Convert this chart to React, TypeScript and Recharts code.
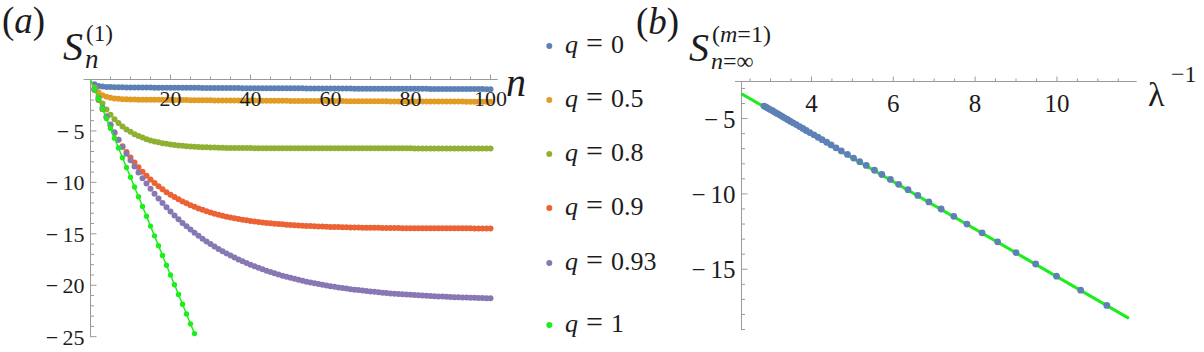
import React from 'react';
import { ScatterChart, Scatter, XAxis, YAxis, ReferenceLine } from 'recharts';

const FONT = "'Liberation Serif', 'Times New Roman', 'DejaVu Serif', 'Noto Serif', serif";
const AXIS = '#9a9a9a';
const INK = '#1c1c1c';

// ---- panel (a): S_n^(1) against n, sampled at n = 1..100 ----
const q0 = [
  -0.45, -0.62, -0.69, -0.72, -0.74, -0.75, -0.76, -0.76, -0.77, -0.77,
  -0.77, -0.78, -0.78, -0.78, -0.78, -0.79, -0.79, -0.79, -0.79, -0.8,
  -0.8, -0.8, -0.8, -0.81, -0.81, -0.81, -0.81, -0.82, -0.82, -0.82,
  -0.82, -0.82, -0.83, -0.83, -0.83, -0.83, -0.83, -0.84, -0.84, -0.84,
  -0.84, -0.84, -0.85, -0.85, -0.85, -0.85, -0.85, -0.86, -0.86, -0.86,
  -0.86, -0.86, -0.86, -0.87, -0.87, -0.87, -0.87, -0.87, -0.87, -0.88,
  -0.88, -0.88, -0.88, -0.88, -0.88, -0.89, -0.89, -0.89, -0.89, -0.89,
  -0.89, -0.9, -0.9, -0.9, -0.9, -0.9, -0.9, -0.91, -0.91, -0.91,
  -0.91, -0.91, -0.91, -0.91, -0.92, -0.92, -0.92, -0.92, -0.92, -0.92,
  -0.92, -0.93, -0.93, -0.93, -0.93, -0.93, -0.93, -0.93, -0.94, -0.94,
];
const q05 = [
  -0.8, -1.25, -1.52, -1.68, -1.78, -1.84, -1.88, -1.91, -1.93, -1.94,
  -1.95, -1.96, -1.96, -1.97, -1.97, -1.98, -1.98, -1.98, -1.99, -1.99,
  -1.99, -2.0, -2.0, -2.0, -2.01, -2.01, -2.01, -2.02, -2.02, -2.02,
  -2.03, -2.03, -2.03, -2.03, -2.04, -2.04, -2.04, -2.05, -2.05, -2.05,
  -2.05, -2.06, -2.06, -2.06, -2.06, -2.07, -2.07, -2.07, -2.07, -2.08,
  -2.08, -2.08, -2.08, -2.09, -2.09, -2.09, -2.09, -2.09, -2.1, -2.1,
  -2.1, -2.1, -2.1, -2.11, -2.11, -2.11, -2.11, -2.11, -2.12, -2.12,
  -2.12, -2.12, -2.12, -2.12, -2.13, -2.13, -2.13, -2.13, -2.13, -2.13,
  -2.14, -2.14, -2.14, -2.14, -2.14, -2.14, -2.15, -2.15, -2.15, -2.15,
  -2.15, -2.15, -2.15, -2.16, -2.16, -2.16, -2.16, -2.16, -2.16, -2.16,
];
const q08 = [
  -0.89, -1.66, -2.33, -2.91, -3.42, -3.86, -4.23, -4.57, -4.85, -5.09,
  -5.31, -5.49, -5.65, -5.8, -5.92, -6.02, -6.11, -6.19, -6.25, -6.31,
  -6.36, -6.41, -6.45, -6.49, -6.52, -6.54, -6.56, -6.58, -6.59, -6.61,
  -6.62, -6.63, -6.64, -6.65, -6.65, -6.66, -6.67, -6.67, -6.67, -6.67,
  -6.68, -6.68, -6.68, -6.68, -6.68, -6.68, -6.68, -6.68, -6.68, -6.68,
  -6.68, -6.68, -6.68, -6.68, -6.68, -6.68, -6.68, -6.68, -6.68, -6.68,
  -6.69, -6.69, -6.69, -6.69, -6.69, -6.69, -6.69, -6.69, -6.69, -6.69,
  -6.69, -6.69, -6.69, -6.69, -6.69, -6.69, -6.69, -6.69, -6.69, -6.69,
  -6.7, -6.7, -6.7, -6.7, -6.7, -6.7, -6.7, -6.7, -6.7, -6.7,
  -6.7, -6.7, -6.7, -6.7, -6.7, -6.7, -6.7, -6.7, -6.7, -6.7,
];
const q09 = [
  -1.03, -1.99, -2.89, -3.72, -4.48, -5.2, -5.86, -6.48, -7.05, -7.58,
  -8.08, -8.53, -8.96, -9.35, -9.72, -10.06, -10.38, -10.67, -10.95, -11.2,
  -11.43, -11.65, -11.86, -12.04, -12.22, -12.38, -12.53, -12.67, -12.8, -12.93,
  -13.04, -13.14, -13.24, -13.33, -13.41, -13.49, -13.56, -13.63, -13.69, -13.75,
  -13.8, -13.85, -13.9, -13.94, -13.98, -14.02, -14.05, -14.08, -14.11, -14.14,
  -14.17, -14.19, -14.21, -14.23, -14.25, -14.27, -14.29, -14.3, -14.32, -14.33,
  -14.34, -14.35, -14.36, -14.37, -14.38, -14.39, -14.39, -14.4, -14.41, -14.41,
  -14.42, -14.42, -14.43, -14.43, -14.44, -14.44, -14.44, -14.45, -14.45, -14.45,
  -14.46, -14.46, -14.46, -14.46, -14.46, -14.46, -14.46, -14.46, -14.46, -14.46,
  -14.47, -14.47, -14.47, -14.47, -14.47, -14.48, -14.48, -14.48, -14.48, -14.48,
];
const q093 = [
  -0.95, -1.87, -2.74, -3.57, -4.37, -5.13, -5.86, -6.55, -7.22, -7.85,
  -8.46, -9.03, -9.59, -10.12, -10.62, -11.11, -11.57, -12.01, -12.43, -12.83,
  -13.22, -13.59, -13.94, -14.27, -14.59, -14.9, -15.19, -15.47, -15.74, -16.0,
  -16.24, -16.48, -16.7, -16.91, -17.11, -17.31, -17.5, -17.67, -17.84, -18.01,
  -18.16, -18.31, -18.45, -18.59, -18.72, -18.84, -18.96, -19.07, -19.18, -19.28,
  -19.38, -19.47, -19.56, -19.65, -19.73, -19.81, -19.89, -19.96, -20.03, -20.09,
  -20.15, -20.21, -20.27, -20.32, -20.38, -20.43, -20.47, -20.52, -20.56, -20.61,
  -20.64, -20.68, -20.72, -20.75, -20.79, -20.82, -20.85, -20.88, -20.9, -20.93,
  -20.96, -20.98, -21.0, -21.03, -21.05, -21.07, -21.09, -21.1, -21.12, -21.14,
  -21.16, -21.17, -21.19, -21.2, -21.21, -21.22, -21.24, -21.25, -21.26, -21.27,
];
// q = 1 starts at n = 0 (line only there) and runs to n = 26
const q1 = [
  0, -0.95, -1.9, -2.85, -3.8, -4.75, -5.7, -6.65, -7.6, -8.55,
  -9.5, -10.45, -11.4, -12.35, -13.3, -14.25, -15.2, -16.15, -17.1, -18.05,
  -19.0, -19.95, -20.9, -21.85, -22.8, -23.75, -24.7,
];

const seriesA = [
  { q: '0', color: '#5E81B5', values: q0, first: 1 },
  { q: '0.5', color: '#E19C24', values: q05, first: 1 },
  { q: '0.8', color: '#8FB032', values: q08, first: 1 },
  { q: '0.9', color: '#EB6235', values: q09, first: 1 },
  { q: '0.93', color: '#8778B3', values: q093, first: 1 },
  { q: '1', color: '#1BEE1B', values: q1, first: 0 },
];

const nTicks = [5, 10, 15, 20, 25, 30, 35, 40, 45, 50, 55, 60, 65, 70, 75, 80, 85, 90, 95, 100];
const nMajor = [20, 40, 60, 80, 100];
const sTicksA = [-1, -2, -3, -4, -5, -6, -7, -8, -9, -10, -11, -12, -13, -14, -15, -16, -17, -18, -19, -20, -21, -22, -23, -24, -25];
const sMajorA = [-5, -10, -15, -20, -25];

// ---- panel (b): S_{n=inf} against 1/lambda ----
const lambdaInv = [
  2.84, 2.89, 2.94, 2.99, 3.05, 3.1, 3.16, 3.22, 3.28, 3.34,
  3.41, 3.48, 3.55, 3.63, 3.71, 3.79, 3.87, 3.96, 4.06, 4.16,
  4.26, 4.37, 4.48, 4.6, 4.73, 4.88, 5.03, 5.18, 5.34, 5.54,
  5.72, 5.93, 6.13, 6.36, 6.6, 6.87, 7.17, 7.48, 7.8, 8.17,
  8.55, 9.0, 9.48, 9.99, 10.58, 11.22,
];
const sInf = [
  -4.17, -4.24, -4.32, -4.4, -4.48, -4.57, -4.66, -4.75, -4.85, -4.95,
  -5.06, -5.17, -5.28, -5.4, -5.53, -5.66, -5.79, -5.93, -6.08, -6.24,
  -6.4, -6.57, -6.75, -6.94, -7.15, -7.38, -7.62, -7.86, -8.11, -8.43,
  -8.71, -9.04, -9.36, -9.72, -10.1, -10.53, -11.0, -11.49, -12.0, -12.58,
  -13.18, -13.89, -14.65, -15.46, -16.39, -17.4,
];
const fitX = [2.29, 11.76];
const fitY = [-3.35, -18.26];

const lTicks = [2.5, 3, 3.5, 4, 4.5, 5, 5.5, 6, 6.5, 7, 7.5, 8, 8.5, 9, 9.5, 10, 10.5, 11, 11.5];
const lMajor = [4, 6, 8, 10];
const sTicksB = [-3, -4, -5, -6, -7, -8, -9, -10, -11, -12, -13, -14, -15, -16, -17, -18, -19];
const sMajorB = [-5, -10, -15];

const LEGEND_Y = [46, 100, 154, 208, 263, 325];

// wide minus with a thin gap, as in the typeset labels
const fmt = (v: number) => (v < 0 ? '\u2212\u2009' + Math.abs(v) : String(v));

function TopTick(props: any) {
  const { x, y, payload, majors, fontSize, dy } = props;
  const major = majors.includes(payload.value);
  return (
    <g>
      <line x1={x} x2={x} y1={y} y2={y - (major ? 5 : 3)} stroke={AXIS} />
      {major && (
        <text x={x} y={y + dy} textAnchor="middle" fontSize={fontSize} style={{ fontFamily: FONT }} fill={INK}>
          {fmt(payload.value)}
        </text>
      )}
    </g>
  );
}

function LeftTick(props: any) {
  const { x, y, payload, majors, fontSize, dx } = props;
  const major = majors.includes(payload.value);
  return (
    <g>
      <line x1={x} x2={x + (major ? 6 : 3.5)} y1={y} y2={y} stroke={AXIS} />
      {major && (
        <text x={x - dx} y={y + fontSize * 0.36} textAnchor="end" fontSize={fontSize} style={{ fontFamily: FONT }} fill={INK}>
          {fmt(payload.value)}
        </text>
      )}
    </g>
  );
}

const dot = (color: string, r: number) => (p: any) =>
  p.payload.n === 0 ? <g /> : <circle cx={p.cx} cy={p.cy} r={r} fill={color} />;

function PanelA() {
  return (
    <ScatterChart width={520} height={352} margin={{ top: 59.5, left: 50.5, right: 22.3, bottom: 14.8 }}>
      <XAxis
        type="number"
        dataKey="n"
        orientation="top"
        height={20}
        domain={[0, 101.8]}
        allowDataOverflow
        ticks={nTicks}
        interval={0}
        tickSize={0}
        tickMargin={0}
        axisLine={{ stroke: AXIS }}
        tick={(p: any) => <TopTick {...p} majors={nMajor} fontSize={22} dy={26.5} />}
      />
      <YAxis
        type="number"
        dataKey="s"
        width={40}
        domain={[-25.05, 0]}
        allowDataOverflow
        ticks={sTicksA}
        interval={0}
        tickSize={0}
        tickMargin={0}
        axisLine={{ stroke: AXIS }}
        tick={(p: any) => <LeftTick {...p} majors={sMajorA} fontSize={22} dx={6} />}
      />
      <ReferenceLine segment={[{ x: -1.75, y: 0 }, { x: 0, y: 0 }]} ifOverflow="visible" stroke={AXIS} />
      {seriesA.map((s) => (
        <Scatter
          key={s.q}
          name={'q = ' + s.q}
          data={s.values.map((v, i) => ({ n: i + s.first, s: v }))}
          fill={s.color}
          shape={dot(s.color, s.first === 0 ? 2.7 : 3)}
          line={s.first === 0 ? { stroke: s.color, strokeWidth: 1.5 } : false}
          lineType="joint"
          isAnimationActive={false}
        />
      ))}
    </ScatterChart>
  );
}

function PanelB() {
  const pts = lambdaInv.map((x, i) => ({ x, y: sInf[i] }));
  const fit = fitX.map((x, i) => ({ x, y: fitY[i] }));
  return (
    <ScatterChart width={604} height={352} margin={{ top: 61.5, left: 101.5, right: 67.3, bottom: 22 }}>
      <XAxis
        type="number"
        dataKey="x"
        orientation="top"
        height={20}
        domain={[2.29, 11.95]}
        allowDataOverflow
        ticks={lTicks}
        interval={0}
        tickSize={0}
        tickMargin={0}
        axisLine={{ stroke: AXIS }}
        tick={(p: any) => <TopTick {...p} majors={lMajor} fontSize={25} dy={30} />}
      />
      <YAxis
        type="number"
        dataKey="y"
        width={40}
        domain={[-19.03, -2.54]}
        allowDataOverflow
        ticks={sTicksB}
        interval={0}
        tickSize={0}
        tickMargin={0}
        axisLine={{ stroke: AXIS }}
        tick={(p: any) => <LeftTick {...p} majors={sMajorB} fontSize={25} dx={6} />}
      />
      <ReferenceLine segment={[{ x: 2.13, y: -2.54 }, { x: 2.29, y: -2.54 }]} ifOverflow="visible" stroke={AXIS} />
      <Scatter
        data={fit}
        fill="#1BEE1B"
        shape={() => <g />}
        line={{ stroke: '#1BEE1B', strokeWidth: 3 }}
        lineType="joint"
        isAnimationActive={false}
      />
      <Scatter data={pts} fill="#5E81B5" shape={dot('#5E81B5', 3.4)} isAnimationActive={false} />
    </ScatterChart>
  );
}

function Labels() {
  return (
    <svg
      width={1204}
      height={352}
      style={{ position: 'absolute', left: 0, top: 0, pointerEvents: 'none', fontFamily: FONT }}
      fill={INK}
    >
      <text x={2} y={33} fontSize={37}>
        (<tspan fontStyle="italic">a</tspan>)
      </text>
      <text x={63} y={60} fontSize={40} fontStyle="italic">S</text>
      <text x={85} y={68} fontSize={27} fontStyle="italic">n</text>
      <text x={86} y={41} fontSize={23}>(1)</text>
      <text x={506} y={96} fontSize={40} fontStyle="italic">n</text>

      {seriesA.map((s, i) => (
        <g key={s.q}>
          <circle cx={549.3} cy={LEGEND_Y[i]} r={3} fill={s.color} />
          <text y={LEGEND_Y[i] + 7} fontSize={26}>
            <tspan x={565} fontStyle="italic">q</tspan>
            <tspan x={586} fontSize={30}>=</tspan>
            <tspan x={611}>{s.q}</tspan>
          </text>
        </g>
      ))}

      <text x={636} y={34} fontSize={37}>
        (<tspan fontStyle="italic">b</tspan>)
      </text>
      <text x={689} y={61} fontSize={40} fontStyle="italic">S</text>
      <text x={712} y={42} fontSize={24}>
        (<tspan fontStyle="italic">m</tspan>=1)
      </text>
      <text x={711} y={69} fontSize={24}>
        <tspan fontStyle="italic">n</tspan>=∞
      </text>
      <text x={1148} y={106} fontSize={34}>λ</text>
      <text x={1171} y={82} fontSize={24}>−1</text>
    </svg>
  );
}

export default function App() {
  return (
    <div style={{ position: 'absolute', left: 0, top: 0, width: 1204, height: 352, background: '#fff' }}>
      <div style={{ position: 'absolute', left: 0, top: 0 }}>
        <PanelA />
      </div>
      <div style={{ position: 'absolute', left: 600, top: 0 }}>
        <PanelB />
      </div>
      <Labels />
    </div>
  );
}
